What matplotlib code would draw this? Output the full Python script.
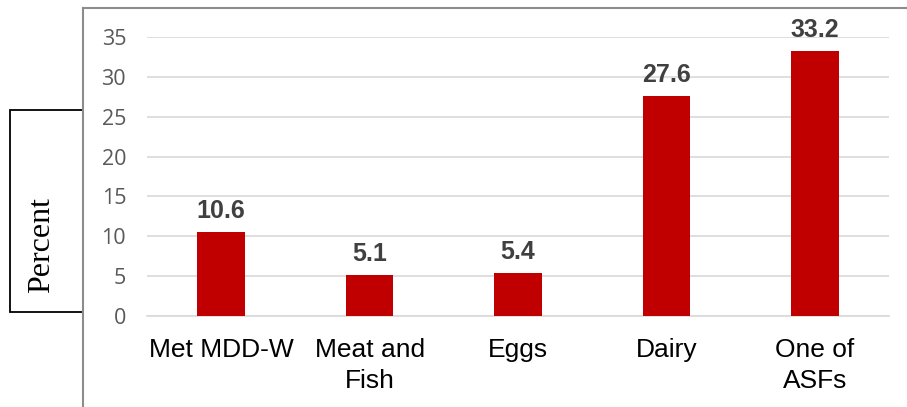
import matplotlib
matplotlib.use("Agg")
import matplotlib.pyplot as plt
from matplotlib.patches import Rectangle
from matplotlib.lines import Line2D

categories = ["Met MDD-W", "Meat and\nFish", "Eggs", "Dairy", "One of\nASFs"]
values = [10.6, 5.1, 5.4, 27.6, 33.2]
yticks = [0, 5, 10, 15, 20, 25, 30, 35]

W, H = 907, 407
fig = plt.figure(figsize=(W / 100, H / 100), dpi=100)

# plot area in pixel coordinates
left, right, top, bottom = 147, 889, 37, 316
ax = fig.add_axes([left / W, 1 - bottom / H, (right - left) / W, (bottom - top) / H])

x = range(len(categories))
ax.bar(x, values, width=0.32, color="#C00000", zorder=3)
for xi, v in zip(x, values):
    ax.annotate(f"{v:.1f}", (xi, v), xytext=(0, 10), textcoords="offset points",
                ha="center", va="baseline", fontsize=18, fontweight="bold",
                color="#404040", family="Liberation Sans")

ax.set_xlim(-0.5, len(categories) - 0.5)
ax.set_ylim(0, 35)
ax.set_yticks(yticks)
ax.set_xticks(list(x))
ax.set_xticklabels(categories, fontsize=19, family="Liberation Sans",
                   color="black", linespacing=1.35)
for lbl in ax.get_yticklabels():
    lbl.set_family("Open Sans")
    lbl.set_fontsize(15.5)
    lbl.set_color("#595959")
ax.tick_params(axis="both", length=0)
ax.tick_params(axis="y", pad=15)
ax.tick_params(axis="x", pad=16)
ax.grid(axis="y", color="#D9D9D9", linewidth=1.2, zorder=0)
for side in ["top", "right", "left"]:
    ax.spines[side].set_visible(False)
ax.spines["bottom"].set_color("#D9D9D9")
ax.spines["bottom"].set_linewidth(1.2)

# outer frame lines
fig.add_artist(Line2D([83 / W, 83 / W], [0, 1 - 8 / H], transform=fig.transFigure,
                      color="#8C8C8C", linewidth=1.5))
fig.add_artist(Line2D([83 / W, 1], [1 - 8 / H, 1 - 8 / H], transform=fig.transFigure,
                      color="#8C8C8C", linewidth=1.5))

# boxed axis title (text sits in the lower part of the box)
bx0, bx1, by0, by1 = 10, 83, 110, 312
fig.add_artist(Rectangle((bx0 / W, 1 - by1 / H), (bx1 - bx0) / W, (by1 - by0) / H,
                         transform=fig.transFigure, fill=False,
                         edgecolor="black", linewidth=1.3))
fig.text(42 / W, 1 - 245 / H, "Percent", rotation=90,
         ha="center", va="center", fontsize=23, family="Liberation Serif",
         color="black")

fig.savefig("out.png", dpi=100)
